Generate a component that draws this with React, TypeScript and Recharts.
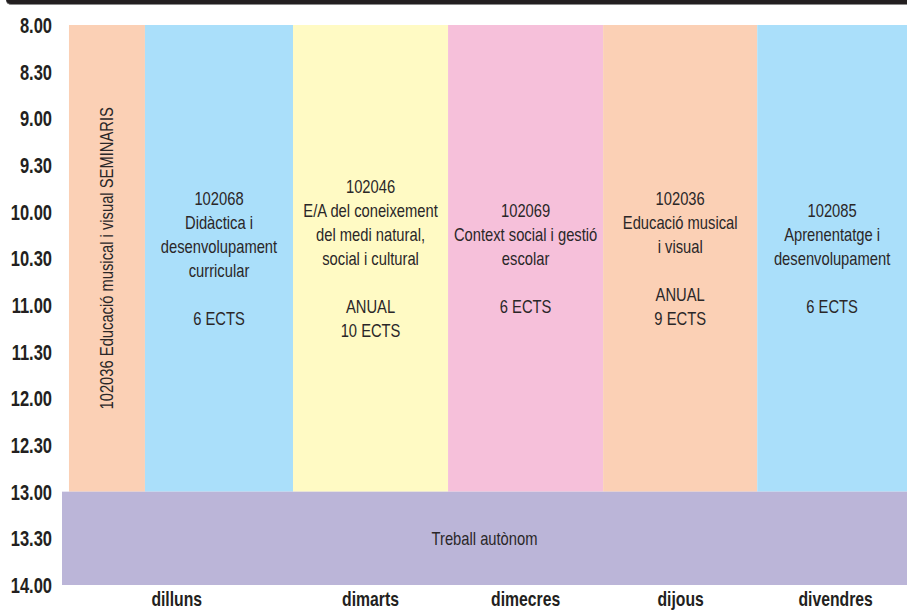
import { ComposedChart, ReferenceArea, Scatter, XAxis, YAxis } from "recharts";

// horari setmanal: hores a l'eix Y (invertit), columnes dels dies a l'eix X
const hourTicks = [8, 8.5, 9, 9.5, 10, 10.5, 11, 11.5, 12, 12.5, 13, 13.5, 14];

const dayNames = ["dilluns", "dimarts", "dimecres", "dijous", "divendres"];
const dayTicks = [0.74, 1.99, 2.99, 3.99, 4.99];

// blocs de classe (8.00 - 13.00)
const blockX1 = [0.045, 0.535, 1.49, 2.49, 3.49, 4.484];
const blockX2 = [0.535, 1.49, 2.49, 3.49, 4.484, 5.45];
const blockFrom = 8;
const blockTo = 13;
const blockFills = ["#fbd0b5", "#aadffa", "#fffac4", "#f6c0da", "#fbd0b5", "#aadffa"];
const blockLines = [
  ["102036 Educació musical i visual SEMINARIS"],
  ["102068", "Didàctica i", "desenvolupament", "curricular", "", "6 ECTS"],
  ["102046", "E/A del coneixement", "del medi natural,", "social i cultural", "", "ANUAL", "10 ECTS"],
  ["102069", "Context social i gestió", "escolar", "", "6 ECTS"],
  ["102036", "Educació musical", "i visual", "", "ANUAL", "9 ECTS"],
  ["102085", "Aprenentatge i", "desenvolupament", "", "6 ECTS"],
];
const blockVertical = [true, false, false, false, false, false];

// treball autònom (13.00 - 14.00)
const autonomX = [0, 5.45];
const autonomY = [13, 14];
const autonomLabel = "Treball autònom";

// no hi ha Arial Narrow: Liberation Sans comprimida horitzontalment
const FONT = "'Liberation Sans', Arial, sans-serif";
const NARROW = 0.82;
const AXIS_NARROW = 0.75;
const TEXT = "#2a2728";
const LINE_H = 24;

const fmtHour = (v: number) => `${Math.floor(v)}.${v % 1 ? "30" : "00"}`;

function blockShape(lines: string[], fill: string, vertical: boolean) {
  return (p: any) => {
    const { x, y, width, height } = p;
    const cx = x + width / 2;
    const cy = y + height / 2;
    const top = ((lines.length - 1) * LINE_H) / 2;
    return (
      <g>
        <rect x={x} y={y} width={width} height={height} fill={fill} stroke="none" />
        <g
          transform={
            vertical
              ? `translate(${cx} ${cy}) rotate(-90) scale(${NARROW} 1)`
              : `translate(${cx} ${cy}) scale(${NARROW} 1)`
          }
        >
          <text textAnchor="middle" fontFamily={FONT} fontSize={18} fill={TEXT}>
            {lines.map((l, i) => (
              <tspan key={i} x={0} y={i * LINE_H - top} dy="0.35em">
                {l}
              </tspan>
            ))}
          </text>
        </g>
      </g>
    );
  };
}

function HourTick({ x, y, payload }: any) {
  return (
    <g transform={`translate(${x} ${y}) scale(${AXIS_NARROW} 1)`}>
      <text
        x={0}
        y={0}
        dy="0.36em"
        textAnchor="end"
        fontFamily={FONT}
        fontWeight="bold"
        fontSize={22}
        fill="#231f20"
      >
        {fmtHour(payload.value)}
      </text>
    </g>
  );
}

function DayTick({ x, y, payload }: any) {
  const i = dayTicks.indexOf(payload.value);
  return (
    <g transform={`translate(${x} ${y + 21}) scale(${AXIS_NARROW} 1)`}>
      <text
        x={0}
        y={0}
        textAnchor="middle"
        fontFamily={FONT}
        fontWeight="bold"
        fontSize={21}
        fill="#231f20"
      >
        {dayNames[i]}
      </text>
    </g>
  );
}

const anchorPoints = dayTicks.map((d) => ({ x: d, y: 10.5 }));

export default function App() {
  return (
    <div style={{ position: "absolute", left: 0, top: 0, width: 907, height: 613, background: "#fff" }}>
      <div
        style={{
          position: "absolute",
          left: 6,
          top: 0,
          width: 901,
          height: 4,
          background: "#231f20",
          borderBottomLeftRadius: 6,
          borderBottom: "1.5px solid #8a8a8a",
        }}
      />
      <ComposedChart
        width={907}
        height={613}
        data={anchorPoints}
        margin={{ top: 25, right: 0, bottom: 0, left: 0 }}
      >
        <XAxis
          type="number"
          dataKey="x"
          domain={[0, 5.45]}
          ticks={dayTicks}
          interval={0}
          axisLine={false}
          tickLine={false}
          tickSize={0}
          tickMargin={0}
          height={28}
          tick={<DayTick />}
          allowDataOverflow
        />
        <YAxis
          type="number"
          dataKey="y"
          domain={[8, 14]}
          reversed
          ticks={hourTicks}
          interval={0}
          axisLine={false}
          tickLine={false}
          tickSize={0}
          tickMargin={10}
          width={62}
          tick={<HourTick />}
          allowDataOverflow
        />
        {blockX1.map((x1, i) => (
          <ReferenceArea
            key={i}
            x1={x1}
            x2={blockX2[i]}
            y1={blockFrom}
            y2={blockTo}
            ifOverflow="visible"
            shape={blockShape(blockLines[i], blockFills[i], blockVertical[i])}
          />
        ))}
        <ReferenceArea
          x1={autonomX[0]}
          x2={autonomX[1]}
          y1={autonomY[0]}
          y2={autonomY[1]}
          ifOverflow="visible"
          shape={blockShape([autonomLabel], "#bbb5d8", false)}
        />
        <Scatter dataKey="y" shape={() => null} isAnimationActive={false} />
      </ComposedChart>
    </div>
  );
}
